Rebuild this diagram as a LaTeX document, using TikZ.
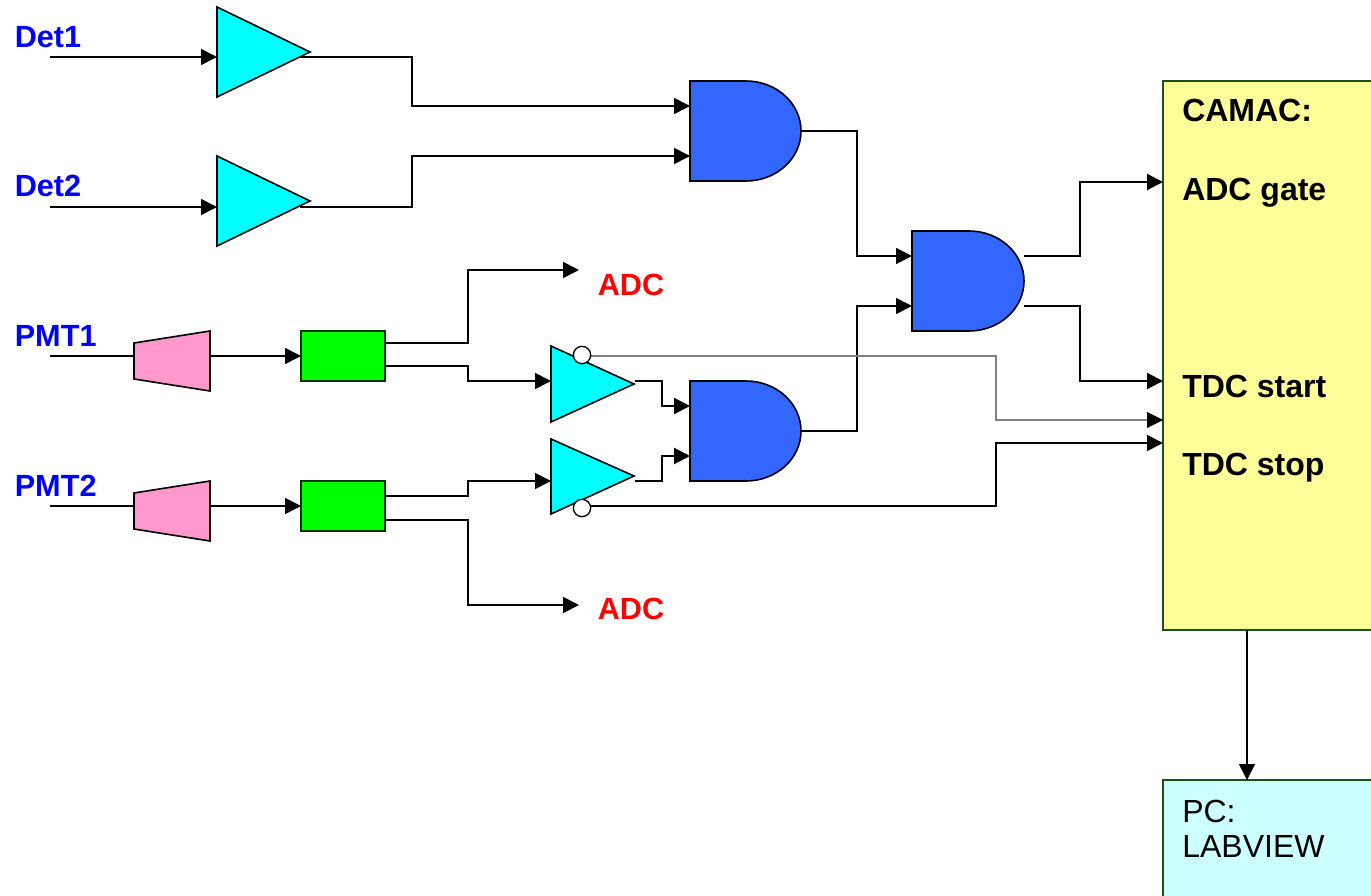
\documentclass[tikz,border=0pt]{standalone}
\usepackage{fontspec}
\setmainfont{Liberation Sans}
\usetikzlibrary{arrows.meta}
\definecolor{trical}{HTML}{00FFFF}
\definecolor{andblue}{HTML}{3366FF}
\definecolor{pinkish}{HTML}{FF99CC}
\definecolor{greenbox}{HTML}{00FF00}
\definecolor{camacy}{HTML}{FFFF99}
\definecolor{pccyan}{HTML}{CCFFFF}
\definecolor{labblue}{HTML}{0000FF}
\definecolor{boxedge}{HTML}{1F4D1F}
\tikzset{
  conn/.style={draw=black,line width=1.25pt,-{Triangle[length=12pt,width=12pt]}},
  boldconn/.style={conn,line width=1.6pt},
  wire/.style={draw=black,line width=1.25pt},
  thinconn/.style={draw=black!50,line width=0.8pt,-{Triangle[length=12pt,width=12pt,color=black,fill=black]}},
  blk/.style={draw=black,line width=1.2pt,line join=miter},
  amp/.style={blk,fill=trical},
  andgate/.style={blk,fill=andblue},
  shaper/.style={blk,fill=pinkish},
  delaybox/.style={draw=black!80!green,line width=1.1pt,fill=greenbox,minimum width=63pt,minimum height=37.5pt,inner sep=0pt},
  bubble/.style={circle,draw=black,line width=1pt,fill=white,minimum size=13pt,inner sep=0pt},
  lab/.style={anchor=base west,inner sep=0pt,font=\fontsize{23}{27}\selectfont\bfseries},
  inlab/.style={lab,text=labblue},
  redlab/.style={lab,text=red},
  blacklab/.style={lab,text=black,font=\fontsize{24}{28}\selectfont\bfseries},
  pclab/.style={anchor=base west,inner sep=0pt,font=\fontsize{24}{28}\selectfont},
}
\begin{document}
\begin{tikzpicture}[x=0.75pt,y=-0.75pt]
\useasboundingbox (0,0) rectangle (1371,896);

% ports
\coordinate (d1in) at (50,57);   \coordinate (t1a) at (217,57);  \coordinate (t1o) at (300,57);
\coordinate (d2in) at (50,207);  \coordinate (t2a) at (217,207); \coordinate (t2o) at (300,207);
\coordinate (a1i1) at (690,106); \coordinate (a1i2) at (690,156); \coordinate (a1o) at (801,131);
\coordinate (a2i1) at (912,256); \coordinate (a2i2) at (912,306);
\coordinate (a2o1) at (1024,256); \coordinate (a2o2) at (1024,306);
\coordinate (a3i1) at (690,406); \coordinate (a3i2) at (690,456); \coordinate (a3o) at (801,431);
\coordinate (p1in) at (50,356);  \coordinate (s1i) at (134,356); \coordinate (s1o) at (210,356);
\coordinate (p2in) at (50,506);  \coordinate (s2i) at (134,506); \coordinate (s2o) at (210,506);
\coordinate (g1a) at (385,343);  \coordinate (g1b) at (385,366);
\coordinate (g2a) at (385,496);  \coordinate (g2b) at (385,520);
\coordinate (t3a) at (551,381);  \coordinate (t3o) at (635,381);
\coordinate (t4a) at (551,481);  \coordinate (t4o) at (635,481);
\coordinate (adc1) at (579,270); \coordinate (adc2) at (579,605);
\coordinate (cg) at (1163,182);  \coordinate (cs) at (1163,381);
\coordinate (cx) at (1163,420);  \coordinate (ct) at (1163,443);
\coordinate (cb) at (1247,630);  \coordinate (pct) at (1247,780);
\coordinate (b1p) at (585,356);  \coordinate (b2p) at (585,506);

% boxes
\fill[camacy] (1163,81) rectangle (1372,630);
\fill[pccyan] (1163,780) rectangle (1372,897);
\draw[boxedge,line width=1pt] (1372,81) -- (1163,81) -- (1163,630) -- (1372,630);
\draw[boxedge,line width=1pt] (1372,780) -- (1163,780) -- (1163,897);

% wires
\draw[conn] (d1in) -- (t1a);
\draw[conn] (d2in) -- (t2a);
\draw[conn] (t1o) -- (412,57) -- (412,106) -- (a1i1);
\draw[conn] (t2o) -- (412,207) -- (412,156) -- (a1i2);
\draw[conn] (a1o) -- (857,131) -- (857,256) -- (a2i1);
\draw[conn] (a3o) -- (857,431) -- (857,306) -- (a2i2);
\draw[boldconn] (a2o1) -- (1080,256) -- (1080,182) -- (cg);
\draw[boldconn] (a2o2) -- (1080,306) -- (1080,381) -- (cs);
\draw[wire] (p1in) -- (s1i);
\draw[wire] (p2in) -- (s2i);
\draw[conn] (s1o) -- (301,356);
\draw[conn] (s2o) -- (301,506);
\draw[conn] (g1a) -- (468,343) -- (468,270) -- (adc1);
\draw[conn] (g1b) -- (468,366) -- (468,381) -- (t3a);
\draw[conn] (g2a) -- (468,496) -- (468,481) -- (t4a);
\draw[conn] (g2b) -- (468,520) -- (468,605) -- (adc2);
\draw[boldconn] (t3o) -- (662,381) -- (662,406) -- (a3i1);
\draw[boldconn] (t4o) -- (662,481) -- (662,456) -- (a3i2);
\draw[conn] (cb) -- (pct);
\draw[thinconn] (b1p) -- (996,356) -- (996,420) -- (cx);
\draw[conn] (b2p) -- (996,506) -- (996,443) -- (ct);

% amplifiers, gates
\path[amp] (217,7) -- (217,97) -- (310,52) -- cycle;
\path[amp] (217,156) -- (217,246) -- (310,201) -- cycle;
\path[amp] (551,346) -- (551,422) -- (634,384) -- cycle;
\path[amp] (551,439) -- (551,514) -- (634,476) -- cycle;
\path[andgate] (690,81) -- (746,81) arc[start angle=90,end angle=-90,x radius=55,y radius=-50] -- (690,181) -- cycle;
\path[andgate] (912,231) -- (969,231) arc[start angle=90,end angle=-90,x radius=55,y radius=-50] -- (912,331) -- cycle;
\path[andgate] (690,381) -- (746,381) arc[start angle=90,end angle=-90,x radius=55,y radius=-50] -- (690,481) -- cycle;
\path[shaper] (134,343) -- (210,331) -- (210,391) -- (134,379) -- cycle;
\path[shaper] (134,493) -- (210,481) -- (210,541) -- (134,529) -- cycle;
\node[delaybox] (g1) at (343,356) {};
\node[delaybox] (g2) at (343,506) {};

% inverted outputs
\node[bubble] (b1) at (582,355) {};
\node[bubble] (b2) at (582,508) {};

% labels
\node[inlab] (tdet1) at (14.5,47) {Det1};
\node[inlab] (tdet2) at (14.5,196) {Det2};
\node[inlab] (tpmt1) at (14.5,346) {PMT1};
\node[inlab] (tpmt2) at (14.5,496) {PMT2};
\node[redlab] (tadc1) at (597.5,295) {ADC};
\node[redlab] (tadc2) at (597.5,619) {ADC};
\node[blacklab] (tcam) at (1182,121) {CAMAC:};
\node[blacklab] (tgate) at (1182,200) {ADC gate};
\node[blacklab] (tstart) at (1182,397) {TDC start};
\node[blacklab] (tstop) at (1182,475.5) {TDC stop};
\node[pclab] (tpc) at (1182,822) {PC:};
\node[pclab] (tlab) at (1182,857) {LABVIEW};
\end{tikzpicture}
\end{document}
